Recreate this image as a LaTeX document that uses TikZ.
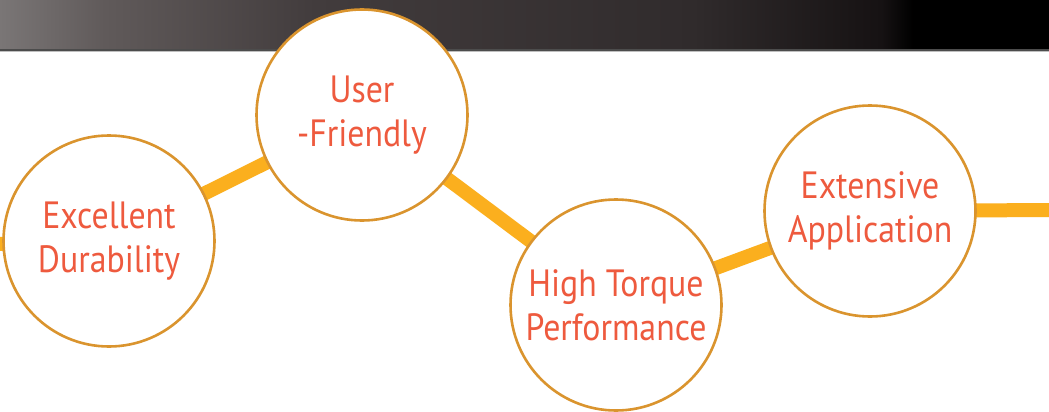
\documentclass[tikz,border=0pt]{standalone}
\usepackage{fontspec}
\newfontfamily\labelfont[FakeStretch=0.89]{PT Sans}
\definecolor{barA}{RGB}{122,118,118}
\definecolor{barB}{RGB}{96,90,90}
\definecolor{barC}{RGB}{66,60,61}
\definecolor{barD}{RGB}{48,43,44}
\definecolor{barF}{RGB}{22,18,19}
\definecolor{barE}{RGB}{0,0,0}
\definecolor{linkcol}{RGB}{251,175,30}
\definecolor{ringcol}{RGB}{218,148,46}
\definecolor{txtcol}{RGB}{238,90,62}
\pgfdeclarehorizontalshading{barshade}{100bp}{%
  color(0bp)=(barA); color(25bp)=(barA); color(30bp)=(barB); color(40bp)=(barC);
  color(58bp)=(barD); color(67bp)=(barF); color(68.5bp)=(barE); color(75bp)=(barE); color(100bp)=(barE)}
\begin{document}
\begin{tikzpicture}[x=1pt,y=-1pt,
  feature/.style={circle, draw=ringcol, line width=2.6pt, fill=white,
    minimum size=211pt, inner sep=0pt, align=center, text=txtcol,
    font=\labelfont\fontsize{38}{44}\selectfont},
  link/.style={draw=linkcol, line width=14pt}]
\useasboundingbox (0,0) rectangle (1049,412);
\fill[white] (0,0) rectangle (1049,412);
\shade[shading=barshade] (0,0) rectangle (1049,50);
\fill[black!70] (0,49) rectangle (1049,51);
\fill[black!25] (0,51) rectangle (1049,52.5);
\coordinate (L) at (-4,244);
\coordinate (R) at (1052,210);
\coordinate (cA) at (109,241);
\coordinate (cB) at (362,115);
\coordinate (cC) at (616,305);
\coordinate (cD) at (870,211);
\draw[link] (L) -- (cA);
\draw[link] (cA) -- (cB);
\draw[link] (cB) -- (cC);
\draw[link] (cC) -- (cD);
\draw[link] (cD) -- (R);
\node[feature] (A) at (cA) {Excellent\\Durability};
\node[feature] (B) at (cB) {User\\-Friendly};
\node[feature] (C) at (cC) {High Torque\\Performance};
\node[feature] (D) at (cD) {Extensive\\Application};
\end{tikzpicture}
\end{document}
